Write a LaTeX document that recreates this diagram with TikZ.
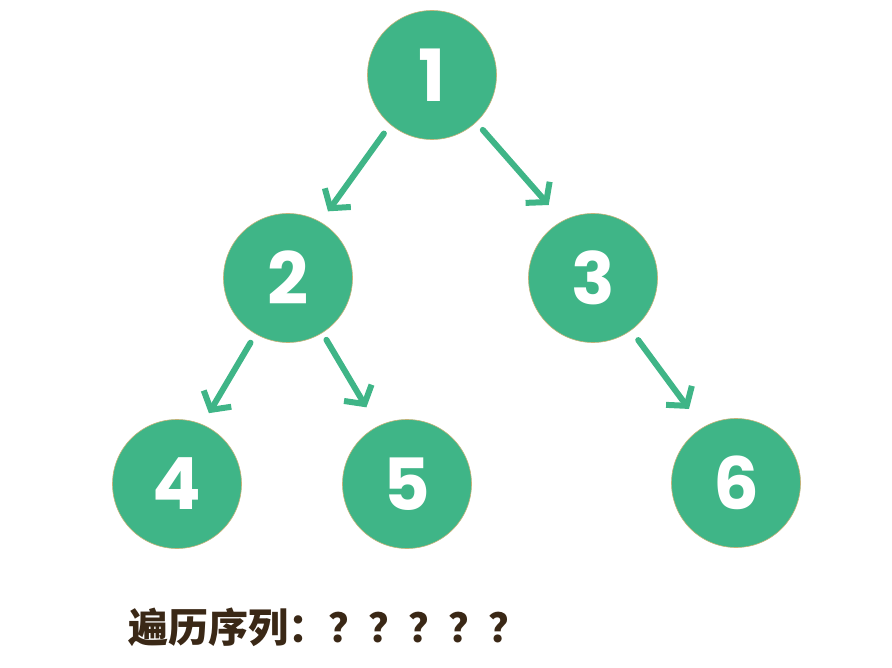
\documentclass[tikz,border=0pt]{standalone}
\usepackage{fontspec}
\setmainfont{Poppins}
\newfontfamily\cjk{Noto Sans CJK SC}
\usetikzlibrary{arrows.meta}
\definecolor{nodegreen}{RGB}{63,181,135}
\definecolor{rimtan}{RGB}{196,178,120}
\definecolor{inkbrown}{RGB}{58,40,22}
\tikzset{
  treenode/.style={circle, fill=nodegreen, draw=rimtan, line width=0.6pt,
    minimum size=129pt, inner sep=0pt, text=white,
    font=\bfseries\fontsize{72pt}{76pt}\selectfont},
  treearrow/.style={draw=nodegreen, line width=6pt, line cap=round,
    -{Straight Barb[length=13pt,width=32pt,line width=6pt]}},
}
\begin{document}
\begin{tikzpicture}[x=1pt,y=1pt]
\useasboundingbox (0,0) rectangle (892,-668);
\node[treenode] (n1) at (432,-75) {1};
\node[treenode] (n2) at (288,-278) {2};
\node[treenode] (n3) at (593,-278) {3};
\node[treenode] (n4) at (177,-484) {4};
\node[treenode] (n5) at (407,-484) {5};
\node[treenode] (n6) at (736,-483) {6};
\draw[treearrow, shorten <=11pt, shorten >=13pt] (n1.230) -- (n2.60);
\draw[treearrow, shorten <=10pt, shorten >=21pt] (n1.-47) -- (n3.118);
\draw[treearrow, shorten <=10pt, shorten >=13pt] (n2.240) -- (n4.67);
\draw[treearrow, shorten <=8pt, shorten >=22pt] (n2.-58) -- (n5.117);
\draw[treearrow, shorten <=12pt, shorten >=23pt] (n3.-54) -- (n6.121);
\node[anchor=west, inner sep=0pt, text=inkbrown,
  font=\cjk\bfseries\fontsize{40pt}{44pt}\selectfont] (seq) at (128,-627) {遍历序列：？？？？？};
\end{tikzpicture}
\end{document}
